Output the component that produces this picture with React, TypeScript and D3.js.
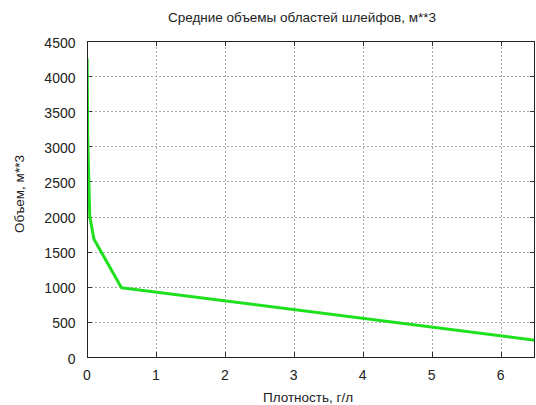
import React, { useEffect, useRef } from 'react';
import * as d3 from 'd3';

const density = [0.002, 0.01, 0.04, 0.1, 0.5, 6.5];
const volume = [4250, 3130, 2000, 1680, 985, 240];
const xTicks = [0, 1, 2, 3, 4, 5, 6];
const yTicks = [0, 500, 1000, 1500, 2000, 2500, 3000, 3500, 4000, 4500];

const App = () => {
  const svgRef = useRef<SVGSVGElement>(null);

  useEffect(() => {
    const width = 536;
    const height = 405;
    const margin = { top: 41, right: 1, bottom: 48, left: 87 };
    const font = 'Liberation Sans, Arial, sans-serif';

    const svg = d3.select(svgRef.current);
    svg.selectAll('*').remove();

    const x = d3.scaleLinear().domain([0, 6.5]).range([margin.left, width - margin.right]);
    const y = d3.scaleLinear().domain([0, 4500]).range([height - margin.bottom, margin.top]);

    // grid
    const grid = svg.append('g').attr('stroke', '#a8a8a8').attr('stroke-width', 1).attr('stroke-dasharray', '2,2');
    grid.selectAll('.gx')
      .data(xTicks.filter(d => d > 0))
      .enter().append('line')
      .attr('x1', d => Math.round(x(d)) + 0.5).attr('x2', d => Math.round(x(d)) + 0.5)
      .attr('y1', y(0)).attr('y2', y(4500));
    grid.selectAll('.gy')
      .data(yTicks.filter(d => d > 0 && d < 4500))
      .enter().append('line')
      .attr('y1', d => Math.round(y(d)) + 0.5).attr('y2', d => Math.round(y(d)) + 0.5)
      .attr('x1', x(0)).attr('x2', x(6.5));

    // ticks (inward, mirrored)
    const ticks = svg.append('g').attr('stroke', '#333').attr('stroke-width', 1);
    xTicks.forEach(d => {
      const px = Math.round(x(d)) + 0.5;
      ticks.append('line').attr('x1', px).attr('x2', px).attr('y1', y(0)).attr('y2', y(0) - 5);
      ticks.append('line').attr('x1', px).attr('x2', px).attr('y1', y(4500)).attr('y2', y(4500) + 5);
    });
    yTicks.forEach(d => {
      const py = Math.round(y(d)) + 0.5;
      ticks.append('line').attr('y1', py).attr('y2', py).attr('x1', x(0)).attr('x2', x(0) + 5);
      ticks.append('line').attr('y1', py).attr('y2', py).attr('x1', x(6.5)).attr('x2', x(6.5) - 5);
    });

    // clip + line
    svg.append('clipPath').attr('id', 'plotclip')
      .append('rect')
      .attr('x', x(0)).attr('y', y(4500))
      .attr('width', x(6.5) - x(0)).attr('height', y(0) - y(4500));

    const pts = density.map((d, i) => [d, volume[i]] as [number, number]);
    const line = d3.line<[number, number]>().x(d => x(d[0])).y(d => y(d[1]));
    svg.append('path')
      .datum(pts)
      .attr('clip-path', 'url(#plotclip)')
      .attr('fill', 'none')
      .attr('stroke', '#1ee01e')
      .attr('stroke-width', 3)
      .attr('stroke-linejoin', 'round')
      .attr('d', line);

    // frame
    svg.append('rect')
      .attr('x', x(0) + 0.5).attr('y', y(4500) + 0.5)
      .attr('width', x(6.5) - x(0) - 1).attr('height', y(0) - y(4500))
      .attr('fill', 'none').attr('stroke', '#222').attr('stroke-width', 1);

    // tick labels
    svg.append('g').selectAll('text')
      .data(xTicks)
      .enter().append('text')
      .attr('x', d => x(d)).attr('y', 380)
      .attr('text-anchor', 'middle')
      .attr('font-family', font).attr('font-size', 14).attr('fill', '#222')
      .text(d => d);
    svg.append('g').selectAll('text')
      .data(yTicks)
      .enter().append('text')
      .attr('x', 75.5).attr('y', d => y(d) + 6.5)
      .attr('text-anchor', 'end')
      .attr('font-family', font).attr('font-size', 14).attr('fill', '#222')
      .text(d => d);

    // titles
    svg.append('text')
      .attr('x', 302).attr('y', 22)
      .attr('text-anchor', 'middle')
      .attr('font-family', font).attr('font-size', 13.5).attr('fill', '#222')
      .text('Средние объемы областей шлейфов, м**3');
    svg.append('text')
      .attr('x', 308).attr('y', 402)
      .attr('text-anchor', 'middle')
      .attr('font-family', font).attr('font-size', 13.5).attr('fill', '#222')
      .text('Плотность, г/л');
    svg.append('text')
      .attr('transform', 'translate(24,194) rotate(-90)')
      .attr('text-anchor', 'middle')
      .attr('font-family', font).attr('font-size', 13.5).attr('fill', '#222')
      .text('Объем, м**3');
  }, []);

  return (
    <svg
      ref={svgRef}
      width={536}
      height={405}
      style={{ position: 'absolute', left: 0, top: 0, background: '#fff', display: 'block' }}
    />
  );
};

export default App;
